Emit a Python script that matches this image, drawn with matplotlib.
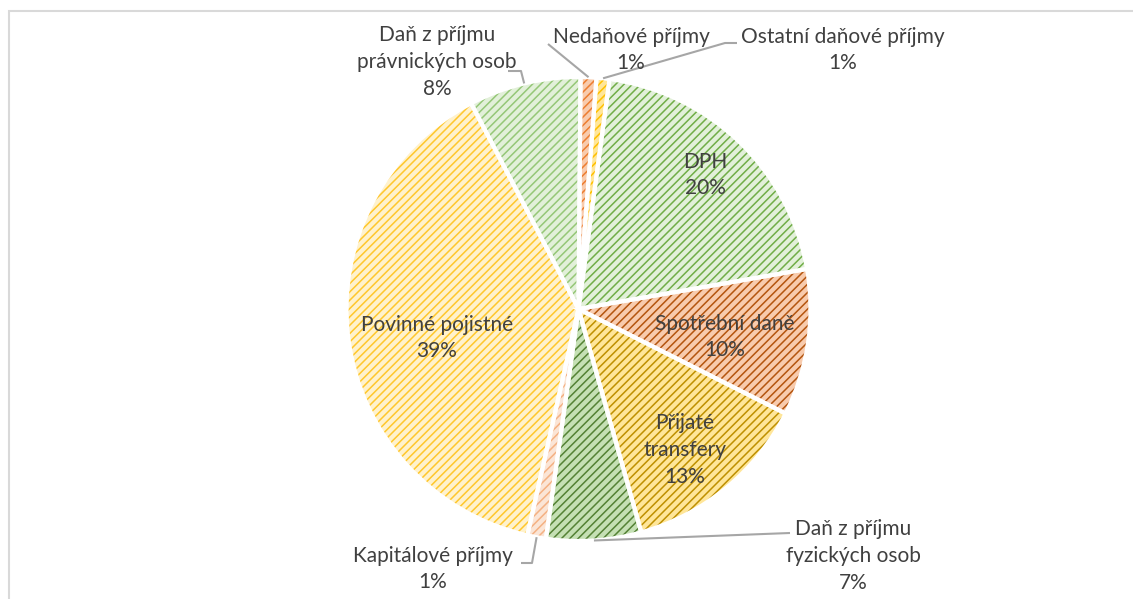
import matplotlib.pyplot as plt
import numpy as np
from matplotlib.patches import Rectangle

# revenue shares (%), clockwise from the top
labels = ['Nedaňové příjmy', 'Ostatní daňové příjmy', 'DPH', 'Spotřební daně',
          'Přijaté\ntransfery', 'Daň z příjmu\nfyzických osob', 'Kapitálové příjmy',
          'Povinné pojistné', 'Daň z příjmu\nprávnických osob']
values = [1.1, 0.9, 20.1, 10.2, 13.2, 6.6, 1.3, 38.8, 7.8]

fills = ['#F8CBAD', '#FFE699', '#E2F0D9', '#F8CBAD', '#FFE699',
         '#C5E0B4', '#FBE5D6', '#FFF2CC', '#E2F0D9']
hatches = ['#ED7D31', '#FFC000', '#70AD47', '#B4550F', '#BF9000',
           '#548235', '#F4B183', '#FFC72C', '#95C777']

W, H = 1133, 599
cx, cy, R = 578.5, H - 309, 232
start = 89.5

plt.rcParams['font.family'] = ['Lato', 'DejaVu Sans']
plt.rcParams['hatch.linewidth'] = 1.1

fig = plt.figure(figsize=(W / 100, H / 100), dpi=100)
ax = fig.add_axes([0, 0, 1, 1])

wedges, _ = ax.pie(values, colors=fills, startangle=start, counterclock=False,
                   center=(cx, cy), radius=R, wedgeprops=dict(linewidth=0))
for w, hc in zip(wedges, hatches):
    w.set_edgecolor(hc)
    w.set_linewidth(0)
    w.set_hatch('////')
ax.pie(values, startangle=start, counterclock=False, center=(cx, cy), radius=R,
       wedgeprops=dict(fill=False, edgecolor='white', linewidth=3))

ax.set_xlim(0, W)
ax.set_ylim(0, H)
ax.set_aspect('auto')
ax.axis('off')

# chart frame
ax.add_patch(Rectangle((8.5, -10), W, H - 10.5 + 10, fill=False,
                       edgecolor='#D9D9D9', linewidth=1.5))

# mid angles of each slice
cum = np.cumsum([0] + values)
mids = start - (cum[:-1] + np.array(values) / 2) * 3.6


def edge_pt(i):
    a = np.deg2rad(mids[i])
    return cx + R * np.cos(a), cy + R * np.sin(a)


def pct(i):
    return '{:.0f}%'.format(values[i])


tc = '#404040'
fs = 15
# label text centres in pixel coords (x, y from top)
pos = {0: (631, 50), 1: (843, 50), 2: (705, 175), 3: (725, 337), 4: (685, 450),
       5: (853, 556), 6: (433, 569), 7: (437, 338), 8: (437, 62)}
for i, (px, py) in pos.items():
    name = labels[i]
    ax.text(px, H - py, name + '\n' + pct(i), ha='center', va='center',
            fontsize=fs, color=tc, linespacing=1.42)

# leader lines (start point / elbow in pixel coords)
leaders = {0: [(548, 44)], 1: [(737, 43), (725, 43)], 8: [(508, 71), (521, 71)],
           6: [(521, 563), (532, 563)], 5: [(790, 533)]}
for i, pts in leaders.items():
    xs = [p[0] for p in pts]
    ys = [H - p[1] for p in pts]
    ex, ey = edge_pt(i)
    ax.plot(xs + [ex], ys + [ey], color='#A6A6A6', linewidth=1.5,
            solid_capstyle='butt')

plt.savefig('out.png', dpi=100)
